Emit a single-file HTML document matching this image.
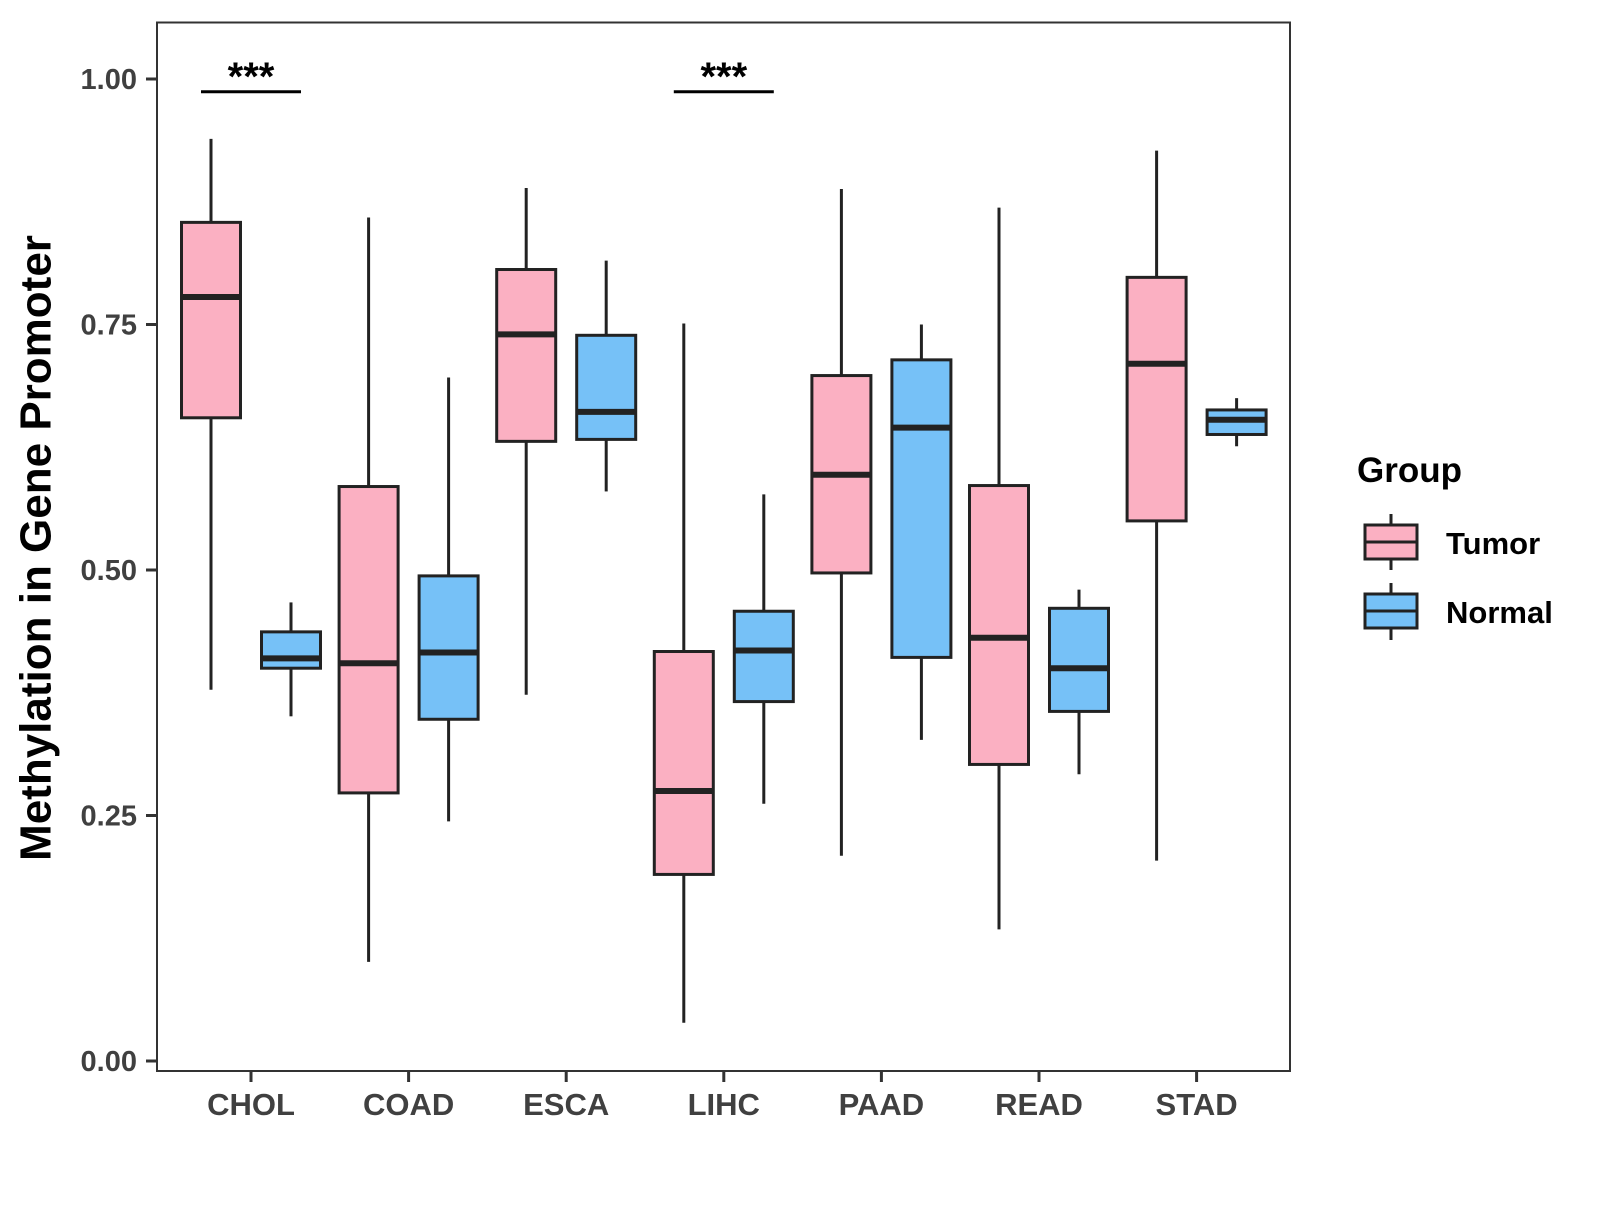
<!DOCTYPE html>
<html><head><meta charset="utf-8"><style>
body{margin:0;background:#fff;}
svg text{font-family:"Liberation Sans",Arial,sans-serif;font-weight:bold;}
</style></head><body>
<svg width="1600" height="1200" xmlns="http://www.w3.org/2000/svg" id="chart">
<rect x="157" y="22.5" width="1133" height="1048.5" fill="#fff" stroke="#333" stroke-width="2"/>
<g id="yaxis"></g>
<g id="xaxis"></g>
<g id="boxes"></g>
<g id="sig"></g>
<text x="39" y="548" transform="rotate(-90 39 548)" text-anchor="middle" dominant-baseline="middle" font-size="44" fill="#000">Methylation in Gene Promoter</text>
<g>
<text x="1357" y="482" font-size="35" fill="#000">Group</text>
<g>
<line x1="1391" x2="1391" y1="514" y2="570" stroke="#222" stroke-width="3"/>
<rect x="1365" y="525" width="52" height="34" fill="#fbb0c2" stroke="#222" stroke-width="3"/>
<line x1="1365" x2="1417" y1="542" y2="542" stroke="#222" stroke-width="3"/>
<text x="1446" y="554" font-size="31" fill="#000">Tumor</text>
</g>
<g>
<line x1="1391" x2="1391" y1="583" y2="640" stroke="#222" stroke-width="3"/>
<rect x="1365" y="594" width="52" height="34" fill="#76c1f7" stroke="#222" stroke-width="3"/>
<line x1="1365" x2="1417" y1="611" y2="611" stroke="#222" stroke-width="3"/>
<text x="1446" y="623" font-size="31" fill="#000">Normal</text>
</g>
</g>
</svg>
<script>
const categories=["CHOL","COAD","ESCA","LIHC","PAAD","READ","STAD"];
const tumorMin=[0.378,0.101,0.373,0.039,0.209,0.134,0.204];
const tumorQ1=[0.655,0.273,0.631,0.190,0.497,0.302,0.550];
const tumorMed=[0.778,0.405,0.740,0.275,0.597,0.431,0.710];
const tumorQ3=[0.854,0.585,0.806,0.417,0.698,0.586,0.798];
const tumorMax=[0.939,0.859,0.889,0.751,0.888,0.869,0.927];
const normalMin=[0.351,0.244,0.580,0.262,0.327,0.292,0.626];
const normalQ1=[0.400,0.348,0.633,0.366,0.411,0.356,0.638];
const normalMed=[0.410,0.416,0.661,0.418,0.645,0.400,0.653];
const normalQ3=[0.437,0.494,0.739,0.458,0.714,0.461,0.663];
const normalMax=[0.467,0.696,0.815,0.577,0.750,0.480,0.675];
const yTicks=[0,0.25,0.5,0.75,1.0];
const yTickLabels=["0.00","0.25","0.50","0.75","1.00"];
const sigCats=["CHOL","LIHC"];
const sigLabels=["***","***"];
const sigLevel=0.987;

const NS="http://www.w3.org/2000/svg";
const y=v=>1061-v*982;
const x=i=>251+i*157.6;
function mk(tag,attrs,parent){const e=document.createElementNS(NS,tag);for(const k in attrs)e.setAttribute(k,attrs[k]);parent.appendChild(e);return e;}
const ya=document.getElementById('yaxis');
yTicks.forEach((t,i)=>{
  const l=mk('line',{x1:146,x2:157,y1:y(t),y2:y(t),stroke:'#333','stroke-width':3},ya);
  
  
  const tx=mk('text',{x:137,y:y(t)+10,'text-anchor':'end','font-size':29,fill:'#404040'},ya);
  tx.textContent=yTickLabels[i];
  
  
});
const xa=document.getElementById('xaxis');
categories.forEach((c,i)=>{
  const l=mk('line',{x1:x(i),x2:x(i),y1:1071,y2:1082,stroke:'#333','stroke-width':3},xa);
  
  
  const tx=mk('text',{x:x(i),y:1115,'text-anchor':'middle','font-size':31,fill:'#404040'},xa);
  tx.textContent=c;
  
  
});
const bg=document.getElementById('boxes');
function box(cx,mn,q1,md,q3,mx,fill,name){
  const g=mk('g',{},bg);
  
  
  mk('line',{x1:cx,x2:cx,y1:y(mx),y2:y(q3),stroke:'#222','stroke-width':3},g);
  mk('line',{x1:cx,x2:cx,y1:y(q1),y2:y(mn),stroke:'#222','stroke-width':3},g);
  mk('rect',{x:cx-29.5,y:y(q3),width:59,height:y(q1)-y(q3),fill:fill,stroke:'#222','stroke-width':3},g);
  mk('line',{x1:cx-29.5,x2:cx+29.5,y1:y(md),y2:y(md),stroke:'#222','stroke-width':6},g);
}
categories.forEach((c,i)=>{
  box(x(i)-40,tumorMin[i],tumorQ1[i],tumorMed[i],tumorQ3[i],tumorMax[i],'#fbb0c2','box-tumor-'+c.toLowerCase());
  box(x(i)+40,normalMin[i],normalQ1[i],normalMed[i],normalQ3[i],normalMax[i],'#76c1f7','box-normal-'+c.toLowerCase());
});
const sg=document.getElementById('sig');
sigCats.forEach((c,k)=>{
  const i=categories.indexOf(c);
  const l=mk('line',{x1:x(i)-50,x2:x(i)+50,y1:y(sigLevel),y2:y(sigLevel),stroke:'#000','stroke-width':3},sg);
  
  
  const t=mk('text',{x:x(i),y:y(sigLevel)-2,'text-anchor':'middle','font-size':40,fill:'#000'},sg);
  t.textContent=sigLabels[k];
  
  
});
</script>
</body></html>
